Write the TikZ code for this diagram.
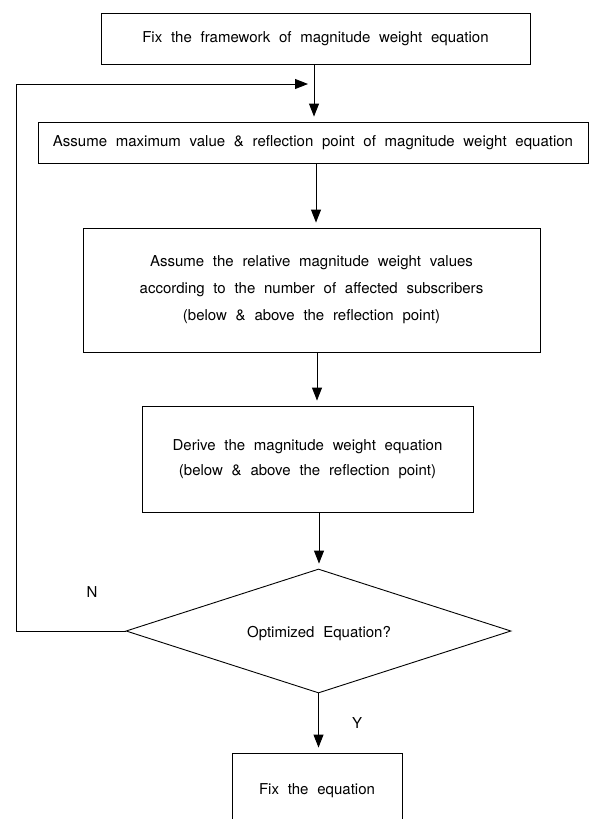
\documentclass[tikz,border=0pt]{standalone}
\usepackage{fontspec}
\setmainfont{TeX Gyre Heros}[WordSpace=2.1]
\usetikzlibrary{shapes.geometric,arrows.meta}
\begin{document}
\begin{tikzpicture}[x=1pt,y=-1pt,
  every node/.style={font=\fontsize{15}{27}\selectfont},
  stepbox/.style={draw,line width=0.9pt,rectangle,inner sep=0pt,align=center},
  decis/.style={draw,line width=0.9pt,diamond,inner sep=0pt,minimum width=385pt,minimum height=124pt},
  arr/.style={line width=0.9pt,-{Triangle[length=13pt,width=10pt]},shorten >=5pt},
  lbl/.style={inner sep=0pt}]
\useasboundingbox (0,0) rectangle (589,819);
\node[stepbox,minimum width=429pt,minimum height=51pt] (b1) at (315.5,38.5) {Fix the framework of magnitude weight equation};
\node[stepbox,minimum width=550pt,minimum height=41pt] (b2) at (313,142.5) {Assume maximum value \& reflection point of magnitude weight equation};
\node[stepbox,minimum width=457pt,minimum height=124pt] (b3) at (311.5,290) {Assume the relative magnitude weight values\\according to the number of affected subscribers\\(below \& above the reflection point)};
\node[stepbox,minimum width=331pt,minimum height=106pt,font=\fontsize{15}{25}\selectfont] (b4) at (307.5,459) {Derive the magnitude weight equation\\(below \& above the reflection point)};
\node[decis] (d) at (318.5,631) {};
\node[lbl] (dt) at (319,634) {Optimized Equation?};
\node[stepbox,minimum width=170pt,minimum height=76pt] (b5) at (317,791) {};
\node[lbl] (b5t) at (317,791) {Fix the equation};
\node[lbl] (n) at (92,592) {N};
\node[lbl] (y) at (357,723) {Y};
% arrows
\coordinate (x1) at (314,0);
\coordinate (x2) at (316,0);
\coordinate (x3) at (317,0);
\coordinate (x4) at (319,0);
\coordinate (x5) at (320,0);
\draw[arr] (b1.south -| x1) -- (b2.north -| x1);
\draw[arr] (b2.south -| x2) -- (b3.north -| x2);
\draw[arr] (b3.south -| x3) -- (b4.north -| x3);
\draw[arr] (b4.south -| x4) -- (d.north -| x4);
\draw[arr] (d.south) -- (b5.north -| d.south);
\coordinate (fbl) at (16,84);
\coordinate (fbe) at (308,84);
\draw[arr,shorten >=0pt] (d.west) -| (fbl) -- (fbe);
\end{tikzpicture}
\end{document}
